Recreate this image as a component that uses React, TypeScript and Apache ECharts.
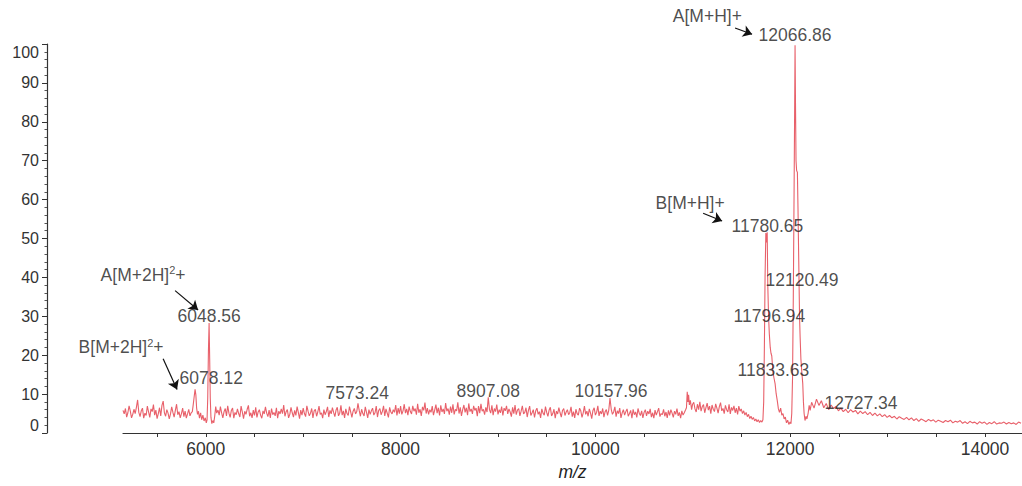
import React, { useEffect, useRef } from "react";
import * as echarts from "echarts";

// ---------- data (m/z, relative intensity %) ----------
const FINE_STEP = 12.5;
const COARSE_STEP = 25;

// baseline noise segments: start m/z, then values every step
const noiseAStart = 5150;
const noiseA = [
  5.8, 4.9, 6.3, 4.1, 5.2, 7.0, 5.6, 3.9, 4.8, 6.1, 5.0, 6.6, 8.5, 5.3, 4.2, 5.7,
  6.4, 3.8, 5.1, 4.5, 6.9, 5.4, 4.0, 6.2, 5.5, 7.3, 4.6, 5.9, 3.7, 5.0, 6.5, 4.4,
  7.1, 8.2, 5.2, 4.3, 6.0, 5.1, 3.6, 4.9, 6.7, 5.3, 4.1, 5.8, 7.4, 4.7, 5.5, 3.9,
  5.0, 6.4, 4.2, 5.6, 3.8, 4.9, 6.1, 4.4, 5.2,
];

const peaks6000: [number, number][] = [
  [5862, 5.5], [5872, 7.5], [5880, 9.2], [5890, 11.2], [5898, 9.8], [5906, 6.4],
  [5915, 4.8], [5925, 5.6], [5935, 3.8], [5947, 5.2], [5958, 3.4], [5970, 4.6],
  [5982, 3.1], [5995, 3.9], [6005, 2.6], [6013, 3.4], [6020, 9], [6027, 21],
  [6034, 28.3], [6040, 19], [6046, 9], [6053, 4], [6062, 2.4], [6072, 3.2],
  [6082, 2.6], [6092, 4.4], [6102, 6.8], [6112, 5.1],
];

const noiseBStart = 6125;
const noiseB = [
  5.9, 4.6, 6.8, 5.2, 3.9, 5.5, 6.3, 4.4, 7.0, 5.1, 4.0, 5.8, 6.4, 3.8, 5.3, 4.7,
  6.2, 5.0, 4.1, 6.9, 5.4, 3.7, 5.6, 4.8, 6.1, 7.1, 4.3, 5.2, 3.9, 5.9, 4.5, 6.6,
  4.0, 5.4, 6.0, 4.6, 3.8, 5.7, 4.9, 6.7, 5.1, 4.2, 5.9, 3.9, 6.3, 4.7, 5.3, 4.4,
  6.5, 3.8, 5.6, 4.9, 6.2, 5.0, 7.2, 4.3, 5.5, 6.0, 3.9, 4.8, 6.6, 5.2, 4.1, 5.8,
  4.5, 6.8, 5.3, 3.7, 5.9, 4.6, 6.4, 5.0, 4.2, 7.0, 5.6, 4.4, 5.1, 6.3, 3.9, 5.7,
  6.1, 4.3, 5.4, 6.9, 4.8, 5.2, 3.8, 6.0, 4.7, 5.5, 6.7, 4.1, 5.8, 4.9, 6.5, 5.3,
  4.2, 5.9, 6.6, 4.4, 5.1, 7.1, 4.6, 5.7, 3.9, 6.2, 5.0, 4.5, 6.8, 5.4, 4.0, 5.6,
  6.3, 4.9, 5.5, 7.6, 5.8, 4.3, 6.1, 5.0, 4.4, 6.7, 5.3, 3.9, 6.0, 4.8, 5.7, 6.4,
  4.6, 5.2, 6.9, 4.1, 5.8, 6.3, 4.7, 5.5, 7.0, 4.4, 6.2, 5.1, 4.0, 6.6, 5.4, 4.9,
  6.0, 5.3, 7.2, 4.5, 6.4, 5.0, 6.9, 4.8, 5.7, 7.4, 5.1, 6.2, 4.6, 6.8, 5.5, 4.9,
  7.0, 5.6, 6.3, 4.7, 7.5, 5.2, 6.1, 4.4, 6.7, 5.8, 7.8, 5.0, 6.4, 4.8, 6.0, 5.3,
  6.9, 4.6, 5.9, 7.3, 5.1, 6.5, 4.5, 7.1, 5.4, 6.2, 4.9, 7.7, 5.6, 6.3, 4.7, 6.8,
  5.2, 7.4, 4.8, 6.1, 5.7, 7.9, 5.0, 6.6, 4.4, 6.0, 7.2, 5.3, 6.5, 4.6, 7.6, 5.5,
  6.2, 4.9, 7.0, 5.8, 6.4, 4.3, 6.9, 5.1, 7.5, 5.6, 6.1, 4.7, 6.6, 5.4, 9.2, 6.0,
  5.1, 7.1, 4.6, 6.3, 5.5, 7.3, 4.8, 6.0, 5.2, 6.8, 4.5, 6.4, 5.7, 7.0, 4.9, 6.2,
  5.4, 4.2, 6.6, 5.0, 7.2, 4.7, 5.9, 6.3, 4.4, 5.6, 7.0, 4.9, 5.3, 6.5, 4.1, 5.8,
  6.9, 4.5, 5.2, 6.0, 4.0, 5.7, 6.4, 4.8, 5.5, 3.9, 6.2, 5.1, 4.6, 6.8, 5.3, 4.3,
  5.9, 6.6, 4.4, 5.0, 6.1, 3.8, 5.6, 4.9, 6.5, 5.2, 4.1, 5.8, 6.3, 4.5, 5.4, 6.0,
  4.7, 5.3, 6.7, 4.2, 5.5, 3.9, 6.1, 5.0, 4.6, 6.4, 5.7, 4.0, 5.2, 6.9, 4.8, 5.6,
  4.3, 6.2, 5.1, 3.7, 5.8, 6.5, 4.6, 5.3, 7.0, 4.4, 5.6, 4.9, 6.3, 4.1, 5.5, 6.0,
  4.5, 5.9, 9.0, 6.1, 4.8, 5.4, 6.7, 4.2, 5.7, 5.0, 6.4, 3.9, 5.2, 6.0, 4.6, 5.5,
  6.2, 4.3, 5.0, 5.8, 3.8, 6.1, 4.7, 5.4, 4.0, 6.3, 5.1, 4.5, 5.7, 3.9, 5.3, 6.0,
  4.4, 5.6, 4.9, 6.2, 4.1, 5.2, 3.8, 5.9, 4.6, 5.5, 6.4, 4.2, 5.0, 4.7, 6.1, 4.3,
  5.4, 3.9, 5.8, 4.5, 6.0, 5.1, 4.0, 5.6, 4.8, 6.3, 4.4, 5.3, 3.8, 5.7, 4.6, 5.2,
  5.9,
];

const peaks10950: [number, number][] = [
  [10935, 6.5], [10943, 10.6], [10950, 8.0], [10957, 9.8],
  [10965, 7.2], [10975, 8.4], [10988, 6.0], [10998, 7.4],
];

const noiseCStart = 11010;
const noiseC = [
  7.9, 6.2, 5.4, 7.4, 6.0, 8.0, 5.6, 6.8, 7.3, 5.2, 6.5, 7.7, 5.9, 6.9, 5.0, 7.2,
  6.1, 5.5, 7.5, 6.4, 5.1, 6.8, 7.8, 5.7, 6.3, 5.0, 7.1, 6.0, 5.4, 7.4, 4.9, 6.6,
  5.8, 7.0, 5.2, 6.4, 4.8, 6.9, 5.6, 6.2, 5.0, 5.7, 4.6, 5.3, 4.2, 4.8, 3.7, 4.3,
  3.5, 4.0, 3.1, 3.6, 2.9, 3.4, 2.7, 3.2, 2.8,
];

const peaks12000: [number, number][] = [
  [11720, 3.4], [11728, 8], [11735, 22], [11742, 40], [11750, 51.4], [11757, 49],
  [11764, 51.6], [11770, 38], [11778, 30], [11786, 25.4], [11795, 22], [11803, 20.5],
  [11811, 19.8], [11822, 16], [11833, 14.2], [11845, 12.7], [11856, 10.1], [11867, 8.4],
  [11879, 6.2], [11890, 5.3], [11902, 6.4], [11914, 4.6], [11926, 5.0], [11938, 3.6],
  [11950, 4.1], [11962, 2.6], [11974, 3.3], [11986, 2.2], [11998, 2.8], [12008, 2.4],
  [12016, 5], [12024, 14], [12032, 35], [12040, 62], [12046, 84], [12050, 99.7],
  [12054, 86], [12060, 70], [12066, 67.5], [12074, 67], [12080, 58], [12088, 44],
  [12096, 30], [12102, 24.7], [12110, 19], [12120, 15.5], [12129, 12.7], [12136, 8],
  [12143, 5], [12152, 3.2], [12162, 4.3], [12172, 3.6], [12185, 5.2], [12195, 7.1],
  [12205, 5.8],
];

const noiseDStart = 12220;
const noiseD = [
  7.9, 6.4, 8.7, 7.1, 8.3, 6.5, 7.6, 6.0, 7.2, 6.3,
  6.8, 5.7, 6.4, 5.5, 6.1, 5.2, 6.0, 5.4, 5.8, 4.9,
  5.6, 5.0, 5.5, 4.7, 5.3, 4.5, 5.1, 4.4, 4.9, 4.2,
  4.7, 4.0, 4.5, 3.9, 4.3, 3.6, 4.2, 3.8, 3.5, 4.0,
  3.4, 3.9, 3.2, 3.7, 3.0, 3.6, 3.3, 2.9, 3.5, 3.1,
  3.4, 2.8, 3.3, 3.0, 2.7, 3.2, 2.9, 3.3, 2.6, 3.0,
  2.8, 3.2, 2.5, 2.9, 2.4, 3.0, 2.6, 2.8, 2.3, 2.9,
  2.5, 2.8, 2.2, 2.7, 2.4, 2.9, 2.3, 2.6, 2.5, 2.8,
  2.3, 2.7, 2.4, 2.6, 2.2, 2.8, 2.5,
];

// axis ticks
const xTickValues = [5500, 6000, 6500, 7000, 7500, 8000, 8500, 9000, 9500, 10000, 10500, 11000, 11500, 12000, 12500, 13000, 13500, 14000];
const xLabelValues = [6000, 8000, 10000, 12000, 14000];

// annotations: text, anchor m/z (left edge of text), anchor intensity (text middle)
const annTexts = [
  "A[M+H]+", "12066.86", "B[M+H]+", "11780.65", "12120.49", "11796.94", "11833.63",
  "12727.34", "10157.96", "8907.08", "7573.24", "6078.12", "6048.56",
  "A[M+2H]{sup|2}+", "B[M+2H]{sup|2}+",
];
const annMz = [10790, 11670, 10613, 11393, 11742, 11414, 11455, 12348, 9781, 8570, 7225, 5726, 5705, 4915, 4689];
const annInt = [107.1, 102.3, 59.0, 53.2, 39.4, 30.0, 16.3, 7.6, 10.7, 10.9, 10.2, 14.2, 30.0, 40.7, 22.1];

// arrows: [fromMz, fromInt, toMz, toInt]
const arrows: [number, number, number, number][] = [
  [11434, 104.1, 11609, 102.5],
  [11106, 56.5, 11301, 54.5],
  [5685, 36.6, 5921, 31.6],
  [5562, 19.1, 5705, 11.2],
];

function seg(start: number, step: number, vals: number[]): [number, number][] {
  return vals.map((v, i) => [start + i * step, v] as [number, number]);
}

const FONT = "'Liberation Sans', Arial, sans-serif";

export default function App() {
  const ref = useRef<HTMLDivElement>(null);
  useEffect(() => {
    if (!ref.current) return;
    const chart = echarts.init(ref.current, undefined, { renderer: "svg" });
    const spectrum = [
      ...seg(noiseAStart, FINE_STEP, noiseA),
      ...peaks6000,
      ...seg(noiseBStart, FINE_STEP, noiseB),
      ...peaks10950,
      ...seg(noiseCStart, FINE_STEP, noiseC),
      ...peaks12000,
      ...seg(noiseDStart, COARSE_STEP, noiseD),
    ].sort((a, b) => a[0] - b[0]);

    const annData = annTexts.map((t, i) => ({ name: t, value: [annMz[i], annInt[i]] }));

    chart.setOption({
      animation: false,
      backgroundColor: "#ffffff",
      textStyle: { fontFamily: FONT },
      grid: { left: 123, right: 0, top: 44, bottom: 49, containLabel: false },
      xAxis: {
        type: "value",
        min: 5150,
        max: 14380,
        name: "m/z",
        nameLocation: "middle",
        nameGap: 30,
        nameTextStyle: { fontStyle: "italic", fontSize: 17.5, color: "#222", fontFamily: FONT },
        axisLine: { show: true, onZero: false, lineStyle: { color: "#333", width: 1.2 } },
        axisTick: { show: true, length: 4, customValues: xTickValues, lineStyle: { color: "#333" } },
        axisLabel: {
          customValues: xLabelValues,
          formatter: (v: number) => String(v),
          fontSize: 17.5,
          color: "#333",
          margin: 7,
          fontFamily: FONT,
        },
        splitLine: { show: false },
      },
      yAxis: {
        type: "value",
        min: 0,
        max: 100,
        interval: 10,
        offset: 76,
        axisLine: { show: true, onZero: false, lineStyle: { color: "#333", width: 1.2 } },
        axisTick: { show: true, length: 5, lineStyle: { color: "#333" } },
        minorTick: { show: true, splitNumber: 5, length: 2.5, lineStyle: { color: "#555" } },
        axisLabel: {
          fontSize: 16,
          color: "#333",
          margin: 8,
          fontFamily: FONT,
          verticalAlignMinLabel: "bottom",
          verticalAlignMaxLabel: "top",
        },
        splitLine: { show: false },
      },
      series: [
        {
          type: "line",
          data: spectrum,
          showSymbol: false,
          symbol: "none",
          silent: true,
          lineStyle: { color: "#e8606a", width: 1.1 },
          z: 2,
        },
        {
          type: "scatter",
          data: annData,
          symbolSize: 1,
          clip: false,
          silent: true,
          itemStyle: { color: "rgba(0,0,0,0)" },
          label: {
            show: true,
            position: "right",
            distance: 0,
            formatter: (p: any) => p.name,
            color: "#1e1e1e",
            fontSize: 17.5,
            fontFamily: FONT,
            lineHeight: 20,
            rich: {
              sup: { fontSize: 11, verticalAlign: "top", lineHeight: 20, color: "#1e1e1e", fontFamily: FONT },
            },
          },
          z: 5,
        },
        {
          type: "lines",
          coordinateSystem: "cartesian2d",
          clip: false,
          silent: true,
          symbol: ["none", "arrow"],
          symbolSize: 9,
          lineStyle: { color: "#111", width: 1.2, opacity: 1 },
          data: arrows.map((a) => ({ coords: [[a[0], a[1]], [a[2], a[3]]] })),
          z: 6,
        },
      ],
    });
    return () => chart.dispose();
  }, []);
  return (
    <div
      ref={ref}
      style={{ position: "fixed", left: 0, top: 0, width: 1022, height: 486, background: "#fff" }}
    />
  );
}
